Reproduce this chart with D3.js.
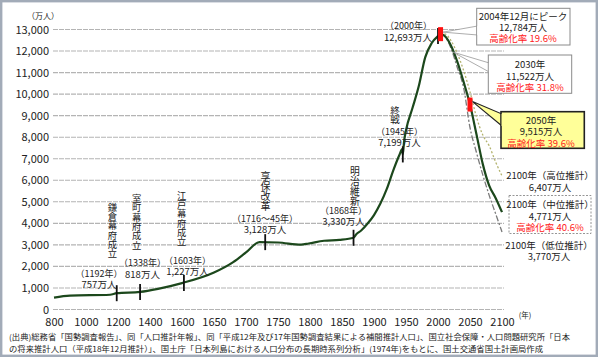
<!DOCTYPE html>
<html><head><meta charset="utf-8">
<script src="https://cdn.jsdelivr.net/npm/d3@7"></script>
<style>
body{margin:0;background:#fff}
svg{display:block;font-family:"Noto Sans CJK JP","Noto Sans",sans-serif}
</style>
</head><body>
<svg id="c" width="598" height="357"></svg>
<script>
// ---- data ----
const xTickYears = [800,1000,1200,1400,1600,1650,1700,1750,1800,1850,1900,1950,2000,2050,2100];
const yTickValues = [0,1000,2000,3000,4000,5000,6000,7000,8000,9000,10000,11000,12000,13000];
const histYears = [800,900,1150,1192,1338,1450,1600,1650,1680,1700,1721,1750,1786,1798,1822,1846,1868,1872,1880,1890,1900,1910,1920,1930,1940,1944,1945,1947,1950,1960,1970,1980,1990,2000,2004,2010,2020,2030,2040,2050,2060,2070,2080,2090,2100];
const histPop  = [551,644,684,757,818,960,1227,1718,2200,2650,3128,3110,3010,3065,3191,3230,3330,3481,3665,3990,4385,4918,5596,6445,7193,7443,7199,7810,8320,9342,10372,11706,12361,12693,12784,12718,12274,11522,10570,9515,8150,6750,5750,5180,4520];
const projYears = [2004,2010,2020,2030,2040,2050,2060,2070,2080,2090,2100];
const highPop = [12784,12800,12500,11900,11100,10100,8950,8100,7600,6850,6200];
const lowPop  = [12784,12700,12150,11250,10300,8450,7300,6250,5300,4450,3600];
const eventYears = [1192,1338,1603,1730,1868,1945,2000];
const eventPop   = [757,818,1227,3128,3330,7199,12693];
const peakYears = [2004,2050];
const peakPop   = [12784,9515];

// ---- layout ----
const svg = d3.select("#c");
svg.append("rect").attr("x",1.2).attr("y",1.2).attr("width",595.6).attr("height",354.6)
  .attr("fill","#fff").attr("stroke","#a2abb8").attr("stroke-width",2.4);

const x = d3.scaleLinear().domain(xTickYears).range(xTickYears.map((d,i)=>54+i*32));
const y = d3.scaleLinear().domain([0,13000]).range([309.5,29.5]);

// grid
svg.append("g").selectAll("line").data(yTickValues).join("line")
  .attr("x1",53).attr("x2",504).attr("y1",d=>y(d)).attr("y2",d=>y(d))
  .attr("stroke","#b4b4b4").attr("stroke-width",1.1).attr("stroke-dasharray","5,1");

// axes
const yAxis = svg.append("g").attr("transform","translate(49,0)")
  .call(d3.axisLeft(y).tickValues(yTickValues).tickSize(0).tickPadding(0).tickFormat(d3.format(",")));
yAxis.select(".domain").remove();
yAxis.selectAll("text").attr("font-size",11).attr("fill","#222").attr("font-family","Noto Sans CJK JP");

const xAxis = svg.append("g").attr("transform","translate(0,318)")
  .call(d3.axisBottom(x).tickValues(xTickYears).tickSize(0).tickPadding(0).tickFormat(d=>String(d)));
xAxis.select(".domain").remove();
xAxis.selectAll("text").attr("font-size",11).attr("fill","#222").attr("font-family","Noto Sans CJK JP");

svg.append("text").attr("x",43).attr("y",15).attr("text-anchor","middle").attr("dominant-baseline","central")
  .attr("font-size",8).attr("fill","#222").text("（万人）");
svg.append("text").attr("x",525).attr("y",314).attr("text-anchor","middle").attr("dominant-baseline","central")
  .attr("font-size",7.5).attr("fill","#222").text("(年)");

// lines
const line = d3.line().x(d=>x(d[0])).y(d=>y(d[1])).curve(d3.curveMonotoneX);
svg.append("path").datum(projYears.map((d,i)=>[d,lowPop[i]])).attr("d",line)
  .attr("fill","none").attr("stroke","#7a7a7a").attr("stroke-width",1.3).attr("stroke-dasharray","6,2,2,2");
svg.append("path").datum(projYears.map((d,i)=>[d,highPop[i]])).attr("d",line)
  .attr("fill","none").attr("stroke","#b3b36e").attr("stroke-width",1.3).attr("stroke-dasharray","2,2");
svg.append("path").datum(histYears.map((d,i)=>[d,histPop[i]])).attr("d",line)
  .attr("fill","none").attr("stroke","#1c481c").attr("stroke-width",2.2).attr("stroke-linejoin","round");

// event tick marks
svg.append("g").selectAll("line").data(eventYears).join("line")
  .attr("x1",d=>x(d)).attr("x2",d=>x(d))
  .attr("y1",(d,i)=>y(eventPop[i])-8).attr("y2",(d,i)=>y(eventPop[i])+8)
  .attr("stroke","#111").attr("stroke-width",1.8);

// helpers
// multi-line text block as one text element
function mtext(xp,y0,lines,opt={}){
  const t = svg.append("text").attr("x",xp).attr("y",y0).attr("text-anchor",opt.anchor||"middle")
    .attr("dominant-baseline","central").attr("font-size",opt.size||9.5).attr("fill","#222");
  const lh = opt.lh||11.2;
  lines.forEach((s,i)=>{
    t.append("tspan").attr("x",xp).attr("y",y0+i*lh)
      .attr("font-size",(opt.sizes&&opt.sizes[i])||null)
      .attr("fill",(opt.red&&i===lines.length-1)?"#ff2020":null).text(s);
  });
  return t;
}
// vertical text as one element
function vtext(xp,yTop,s,step){
  svg.append("text").attr("x",xp).attr("y",yTop).attr("font-size",step)
    .attr("fill","#222").style("writing-mode","vertical-rl").style("text-orientation","upright")
    .attr("text-anchor","start").text(s);
}

// era annotations
vtext(112.5,202.5,"鎌倉幕府成立",9.3);
mtext(99,272.7,["（1192年）","757万人"],{sizes:[9,9.5]});
vtext(136.7,194,"室町幕府成立",9.3);
mtext(142.5,261.7,["（1338年）","818万人"],{sizes:[9,9.5],lh:12.3});
vtext(181.7,190.5,"江戸幕府成立",9.3);
mtext(187.5,260,["（1603年）","1,227万人"],{sizes:[9,9.5],lh:10.5});
vtext(265.5,171,"享保改革",10);
mtext(265,217.7,["（1716～45年）","3,128万人"],{sizes:[9,9.5],lh:11.5});
vtext(355,166.6,"明治維新",9.8);
mtext(343.5,209.5,["（1868年）","3,330万人"],{sizes:[9,9.5],lh:11.3});
vtext(395,105.2,"終戦",9.6);
mtext(399.5,131,["（1945年）","7,199万人"],{sizes:[9,9.5],lh:11});
mtext(432,25,["（2000年）","12,693万人"],{anchor:"end",sizes:[9,9.5],lh:11.5});

// red peak markers
svg.append("g").selectAll("rect").data(peakYears).join("rect")
  .attr("x",d=>x(d)-2.5).attr("y",(d,i)=>y(peakPop[i])-7).attr("width",5).attr("height",14)
  .attr("fill","#ff1010");

// callouts
function callout(tip,bx,by,bw,bh,a1,a2,fill,stroke,sw,dash){
  svg.append("polygon").attr("points",[[tip[0],tip[1]],[bx+1,a1],[bx+1,a2]].map(p=>p.join(",")).join(" "))
    .attr("fill",fill).attr("stroke",stroke).attr("stroke-width",sw*0.7);
  svg.append("rect").attr("x",bx).attr("y",by).attr("width",bw).attr("height",bh)
    .attr("fill",fill).attr("stroke",stroke).attr("stroke-width",sw)
    .attr("stroke-dasharray",dash||null);
  svg.append("rect").attr("x",bx+0.6).attr("y",Math.min(a1,a2)).attr("width",2).attr("height",Math.abs(a2-a1))
    .attr("fill",fill);
}
callout([x(2004)+2.5,y(12784)-2],476.7,8.3,93.3,36.7,26,35,"#fff","#8a8a8a",1);
mtext(523,16,["2004年12月にピーク","12,784万人","高齢化率 19.6%"],{red:true,lh:10.9});

callout([x(2025)-1,y(11950)],488.3,55,83.4,38.3,63,72,"#fff","#8a8a8a",1);
mtext(530,64,["2030年","11,522万人","高齢化率 31.8%"],{red:true,lh:11.6});

callout([x(2050)+2.5,y(9515)-3],501,111.7,83.3,36.6,114,126,"#ffff99","#222",1.6);
mtext(541,119.5,["2050年","9,515万人","高齢化率 39.6%"],{red:true,lh:11.5});

mtext(550,175,["2100年（高位推計）","6,407万人"],{lh:11.5});

svg.append("rect").attr("x",509).attr("y",195.5).attr("width",82).attr("height",38)
  .attr("fill","#fff").attr("stroke","#8a8a8a").attr("stroke-width",0.9).attr("stroke-dasharray","2,1.5");
mtext(550,204,["2100年（中位推計）","4,771万人","高齢化率 40.6%"],{red:true,lh:11.5});

mtext(549,244.5,["2100年（低位推計）","3,770万人"],{lh:11});

// source
svg.append("text").attr("x",9).attr("y",336.5).attr("dominant-baseline","central").attr("font-size",8)
  .attr("fill","#222").attr("textLength",561).attr("lengthAdjust","spacingAndGlyphs")
  .text("(出典)総務省「国勢調査報告」、同「人口推計年報」、同「平成12年及び17年国勢調査結果による補間推計人口」、国立社会保障・人口問題研究所「日本");
svg.append("text").attr("x",9).attr("y",348).attr("dominant-baseline","central").attr("font-size",8)
  .attr("fill","#222").attr("textLength",534).attr("lengthAdjust","spacingAndGlyphs")
  .text("の将来推計人口（平成18年12月推計）」、国土庁「日本列島における人口分布の長期時系列分析」(1974年)をもとに、国土交通省国土計画局作成");
</script>
</body></html>
